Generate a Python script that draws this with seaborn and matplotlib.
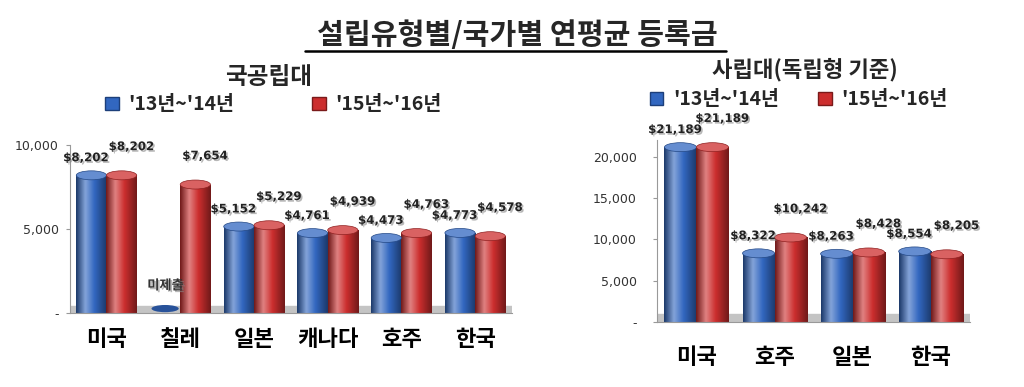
import numpy as np
import pandas as pd
import matplotlib
matplotlib.use("Agg")
import matplotlib.pyplot as plt
import matplotlib.patheffects as pe
from matplotlib.colors import LinearSegmentedColormap, to_rgb
from matplotlib.lines import Line2D
from matplotlib.patches import Patch, Ellipse
import seaborn as sns

# 데이터
periods = ["'13년~'14년", "'15년~'16년"]

public_countries = ["미국", "칠레", "일본", "캐나다", "호주", "한국"]
public_1314 = [8202, 0, 5152, 4761, 4473, 4773]
public_1516 = [8202, 7654, 5229, 4939, 4763, 4578]
public_labels_1314 = ["$8,202", "", "$5,152", "$4,761", "$4,473", "$4,773"]
public_labels_1516 = ["$8,202", "$7,654", "$5,229", "$4,939", "$4,763", "$4,578"]

private_countries = ["미국", "호주", "일본", "한국"]
private_1314 = [21189, 8322, 8263, 8554]
private_1516 = [21189, 10242, 8428, 8205]
private_labels_1314 = ["$21,189", "$8,322", "$8,263", "$8,554"]
private_labels_1516 = ["$21,189", "$10,242", "$8,428", "$8,205"]

sns.set_style("white")
plt.rcParams["font.family"] = ["Noto Sans CJK KR", "DejaVu Sans"]

blue = "#3267c0"
red = "#cc2e2e"
palette = {periods[0]: blue, periods[1]: red}
shadow = [pe.SimplePatchShadow(offset=(1.2, -1.2), shadow_rgbFace="#888888", alpha=0.6), pe.Normal()]


def cylinder(ax, patch, color, cap_h):
    # 원통형 느낌의 가로 그라데이션 + 윗면 타원
    c = np.array(to_rgb(color))
    dark = c * 0.55
    light = np.clip(c + (1 - c) * 0.4, 0, 1)
    cmap = LinearSegmentedColormap.from_list(
        "cyl", [(0, dark), (0.3, light), (0.6, c), (1, dark)])
    x0, y0 = patch.get_x(), patch.get_y()
    w, h = patch.get_width(), patch.get_height()
    if h <= 0:
        ax.add_patch(Ellipse((x0 + w / 2, y0 + cap_h * 0.5), w * 0.9, cap_h * 0.8,
                             facecolor=c * 0.8, edgecolor="none", zorder=3))
        return
    grad = np.linspace(0, 1, 64).reshape(1, -1)
    im = ax.imshow(grad, cmap=cmap, aspect="auto", extent=(x0, x0 + w, y0, y0 + h),
                   zorder=patch.get_zorder() + 0.1, interpolation="bicubic")
    im.set_clip_path(patch)
    ax.add_patch(Ellipse((x0 + w / 2, y0 + h), w, cap_h,
                         facecolor=np.clip(c * 0.75 + 0.25, 0, 1), edgecolor=c * 0.7,
                         lw=0.5, zorder=3))


def draw(ax, countries, s1, s2, lab1, lab2, ymax, yticks, cap_px, ax_h_px):
    df = pd.DataFrame({
        "country": countries * 2,
        "value": s1 + s2,
        "period": [periods[0]] * len(countries) + [periods[1]] * len(countries),
    })
    ax.axhspan(0, ymax * 0.045, color="#c4c4c4", zorder=0)
    sns.barplot(data=df, x="country", y="value", hue="period", palette=palette,
                width=0.82, ax=ax, legend=False, zorder=2)
    cap_h = ymax * cap_px / ax_h_px
    offsets = [(-4, 8), (7, 16)]
    for cont, col, labs, off in zip(ax.containers, [blue, red], [lab1, lab2], offsets):
        for p, lab in zip(cont.patches, labs):
            p.set_edgecolor("none")
            cylinder(ax, p, col, cap_h)
            if lab:
                ax.annotate(lab, (p.get_x() + p.get_width() / 2, p.get_height()),
                            xytext=off, textcoords="offset points", ha="center", va="bottom",
                            fontsize=8.5, fontweight="bold", color="#222222",
                            family="DejaVu Sans", path_effects=shadow, zorder=5)
    ax.set_xlim(-0.5, len(countries) - 0.5)
    ax.set_ylim(0, ymax)
    ax.set_yticks(yticks)
    ax.set_yticklabels(["-" if t == 0 else f"{t:,}" for t in yticks], fontsize=9,
                       color="#333333", family="DejaVu Sans")
    ax.set_xlabel("")
    ax.set_ylabel("")
    for s in ["top", "right"]:
        ax.spines[s].set_visible(False)
    for s in ["left", "bottom"]:
        ax.spines[s].set_color("#999999")
    ax.tick_params(axis="y", left=True, length=3, color="#999999")
    ax.tick_params(axis="x", bottom=False)
    for t in ax.get_xticklabels():
        t.set_fontsize(16)
        t.set_fontweight("bold")
        t.set_color("black")


fig = plt.figure(figsize=(10.24, 3.87), dpi=100)
ax1 = fig.add_axes([0.068, 0.191, 0.432, 0.434])
ax2 = fig.add_axes([0.642, 0.168, 0.305, 0.469])

draw(ax1, public_countries, public_1314, public_1516,
     public_labels_1314, public_labels_1516, 10000, [0, 5000, 10000], 9, 168)
ax1.tick_params(axis="x", pad=7)
ax1.tick_params(axis="y", pad=5)
ax1.text(0.8, 1650, "미제출", ha="center", va="center", fontsize=9.5, fontweight="bold",
         color="#333333", path_effects=shadow, zorder=5)

draw(ax2, private_countries, private_1314, private_1516,
     private_labels_1314, private_labels_1516, 22000, [0, 5000, 10000, 15000, 20000], 9, 182)
ax2.tick_params(axis="x", pad=14)
ax2.tick_params(axis="y", pad=12)

handles = [Patch(facecolor=blue, edgecolor="#1d3f7a"), Patch(facecolor=red, edgecolor="#7a1a1a")]
for cx, cy, sp in [(0.267, 0.729, 4.0), (0.780, 0.742, 2.0)]:
    fig.legend(handles, periods, loc="center", bbox_to_anchor=(cx, cy), ncol=2, frameon=False,
               prop={"size": 14, "weight": "bold"}, handlelength=0.7, handleheight=0.7,
               columnspacing=sp, handletextpad=0.5)

fig.text(0.262, 0.801, "국공립대", ha="center", va="center", fontsize=17, fontweight="bold")
fig.text(0.786, 0.819, "사립대(독립형 기준)", ha="center", va="center", fontsize=16, fontweight="bold")
fig.text(0.505, 0.91, "설립유형별/국가별 연평균 등록금", ha="center", va="center",
         fontsize=21, fontweight="bold")
fig.add_artist(Line2D([0.298, 0.709], [0.868, 0.868], color="black", lw=1.8))

fig.savefig("out.png", dpi=100)
